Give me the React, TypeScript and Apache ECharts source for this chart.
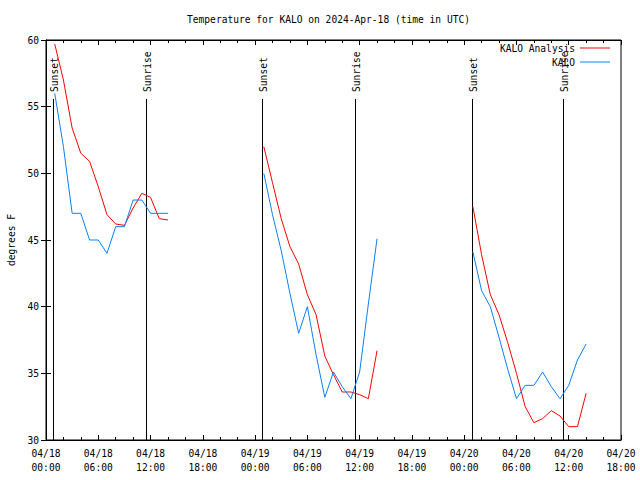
import React, { useEffect, useRef } from "react";
import * as echarts from "echarts";

// Hours since 04/18 00:00 UTC at which each segment starts (hourly values)
const segmentStartHours = [1, 25, 49];

const analysisSeg1 = [59.7, 57.0, 53.4, 51.5, 50.9, 49.0, 46.9, 46.2, 46.1, 47.4, 48.5, 48.2, 46.6, 46.5];
const analysisSeg2 = [52.0, 49.3, 46.6, 44.5, 43.2, 40.9, 39.4, 36.3, 34.9, 33.6, 33.6, 33.4, 33.1, 36.7];
const analysisSeg3 = [47.5, 43.9, 40.9, 39.4, 37.3, 35.0, 32.5, 31.3, 31.6, 32.2, 31.8, 31.0, 31.0, 33.5];

const obsSeg1 = [56, 52, 47, 47, 45, 45, 44, 46, 46, 48, 48, 47, 47, 47];
const obsSeg2 = [50, 46.9, 44.2, 41, 38, 40, 36.4, 33.2, 35.1, 34, 33.1, 35.1, 40.2, 45.1];
const obsSeg3 = [44.1, 41.2, 40, 37.7, 35.3, 33.1, 34.1, 34.1, 35.1, 34, 33.1, 34.1, 36, 37.2];

const sunHours = [0.8, 11.51, 24.83, 35.5, 48.93, 59.38];
const sunLabels = ["Sunset", "Sunrise", "Sunset", "Sunrise", "Sunset", "Sunrise"];
const sunLineTop = 55.58;

const seriesNames = ["KALO Analysis", "KALO"];
const titleText = "Temperature for KALO on 2024-Apr-18 (time in UTC)";
const yAxisName = "degrees F";

const RED = "#ff0000";
const BLUE = "#0a80ff";
const FONT = "DejaVu Sans Mono";
const FS = 9.6;

function buildData(segs: number[][]) {
  const out: any[] = [];
  segs.forEach((seg, si) => {
    if (si > 0) out.push([segmentStartHours[si] - 1, null]);
    seg.forEach((v, i) => out.push([segmentStartHours[si] + i, v]));
  });
  return out;
}

function fmtX(v: number) {
  const day = 18 + Math.floor(v / 24);
  const hr = v % 24;
  return `04/${day}\n${String(hr).padStart(2, "0")}:00`;
}

export default function App() {
  const ref = useRef<HTMLDivElement>(null);
  useEffect(() => {
    document.body.style.margin = "0";
    if (!ref.current) return;
    const chart = echarts.init(ref.current, undefined, { renderer: "svg" });
    const textStyle = { fontFamily: FONT, fontSize: FS, color: "#000" };
    const tickStyle = { color: "#000", width: 1 };
    const legendBase = {
      right: 30,
      padding: 0,
      align: "right",
      icon: "rect",
      itemWidth: 30,
      itemHeight: 1,
      textStyle,
    };
    chart.setOption({
      animation: false,
      backgroundColor: "#fff",
      title: {
        text: titleText,
        left: 187,
        top: 14,
        padding: 0,
        textStyle: { ...textStyle, fontWeight: "normal" },
      },
      legend: [
        { ...legendBase, data: [seriesNames[0]], top: 43 },
        { ...legendBase, data: [seriesNames[1]], top: 57 },
      ],
      grid: {
        left: 46,
        right: 19,
        top: 40,
        bottom: 40,
        containLabel: false,
        outerBoundsMode: "none",
        show: true,
        borderColor: "#000",
        borderWidth: 1,
        backgroundColor: "transparent",
      },
      xAxis: [
        {
          type: "value",
          min: 0,
          max: 66,
          interval: 6,
          position: "bottom",
          axisLine: { show: true, lineStyle: { color: "#000" } },
          axisTick: { show: true, inside: true, length: 5, lineStyle: tickStyle },
          minorTick: { show: true, splitNumber: 3, length: 3, lineStyle: tickStyle },
          splitLine: { show: false },
          axisLabel: { ...textStyle, margin: 7, lineHeight: 13.5, formatter: fmtX },
        },
        {
          type: "value",
          min: 0,
          max: 66,
          interval: 6,
          position: "top",
          axisLine: { show: true, lineStyle: { color: "#000" } },
          axisTick: { show: true, inside: true, length: 5, lineStyle: tickStyle },
          minorTick: { show: true, splitNumber: 3, length: 3, lineStyle: tickStyle },
          splitLine: { show: false },
          axisLabel: { show: false },
        },
      ],
      yAxis: [
        {
          type: "value",
          min: 30,
          max: 60,
          interval: 5,
          position: "left",
          name: yAxisName,
          nameLocation: "middle",
          nameRotate: 90,
          nameGap: 30,
          nameTextStyle: textStyle,
          axisLine: { show: true, lineStyle: { color: "#000" } },
          axisTick: { show: true, inside: true, length: 5, lineStyle: tickStyle },
          splitLine: { show: false },
          axisLabel: { ...textStyle, margin: 7 },
        },
        {
          type: "value",
          min: 30,
          max: 60,
          interval: 5,
          position: "right",
          axisLine: { show: true, lineStyle: { color: "#000" } },
          axisTick: { show: true, inside: true, length: 5, lineStyle: tickStyle },
          splitLine: { show: false },
          axisLabel: { show: false },
        },
      ],
      series: [
        {
          type: "custom",
          name: "sun",
          xAxisIndex: 0,
          yAxisIndex: 0,
          silent: true,
          data: sunHours.map((h) => [h, sunLineTop]),
          renderItem: (params: any, api: any) => {
            const x = api.value(0);
            const p0 = api.coord([x, 30]);
            const p1 = api.coord([x, sunLineTop]);
            const xx = Math.round(p0[0]) + 0.5;
            return {
              type: "group",
              children: [
                {
                  type: "line",
                  shape: { x1: xx, y1: p0[1], x2: xx, y2: p1[1] },
                  style: { stroke: "#000", lineWidth: 1 },
                },
                {
                  type: "text",
                  x: xx + 1,
                  y: p1[1] - 7,
                  rotation: Math.PI / 2,
                  style: {
                    text: sunLabels[params.dataIndex],
                    align: "left",
                    verticalAlign: "middle",
                    fontFamily: FONT,
                    fontSize: FS,
                    fill: "#000",
                  },
                },
              ],
            };
          },
        },
        {
          type: "line",
          name: seriesNames[0],
          data: buildData([analysisSeg1, analysisSeg2, analysisSeg3]),
          showSymbol: false,
          symbol: "none",
          connectNulls: false,
          lineStyle: { color: RED, width: 1 },
          itemStyle: { color: RED },
        },
        {
          type: "line",
          name: seriesNames[1],
          data: buildData([obsSeg1, obsSeg2, obsSeg3]),
          showSymbol: false,
          symbol: "none",
          connectNulls: false,
          lineStyle: { color: BLUE, width: 1 },
          itemStyle: { color: BLUE },
        },
      ],
    });
    return () => chart.dispose();
  }, []);
  return <div ref={ref} style={{ width: 640, height: 480 }} />;
}
